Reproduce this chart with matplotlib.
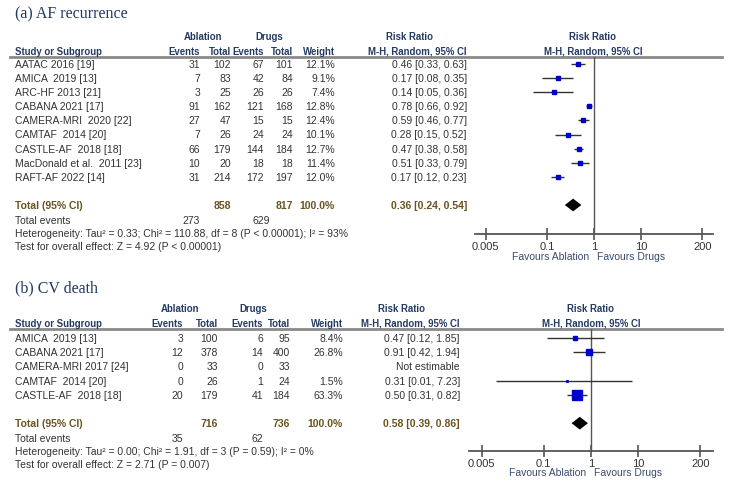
import numpy as np
import matplotlib
matplotlib.use('Agg')
import matplotlib.pyplot as plt
from matplotlib.lines import Line2D

plt.rcParams['font.family'] = ['Liberation Sans', 'DejaVu Sans']

# ---------------- 数据 (a) AF recurrence ----------------
a_studies = ['AATAC 2016 [19]', 'AMICA  2019 [13]', 'ARC-HF 2013 [21]', 'CABANA 2021 [17]',
             'CAMERA-MRI  2020 [22]', 'CAMTAF  2014 [20]', 'CASTLE-AF  2018 [18]',
             'MacDonald et al.  2011 [23]', 'RAFT-AF 2022 [14]']
a_abl_ev = [31, 7, 3, 91, 27, 7, 66, 10, 31]
a_abl_n = [102, 83, 25, 162, 47, 26, 179, 20, 214]
a_drug_ev = [67, 42, 26, 121, 15, 24, 144, 18, 172]
a_drug_n = [101, 84, 26, 168, 15, 24, 184, 18, 197]
a_weight = [12.1, 9.1, 7.4, 12.8, 12.4, 10.1, 12.7, 11.4, 12.0]
a_rr = [0.46, 0.17, 0.14, 0.78, 0.59, 0.28, 0.47, 0.51, 0.17]
a_lo = [0.33, 0.08, 0.05, 0.66, 0.46, 0.15, 0.38, 0.33, 0.12]
a_hi = [0.63, 0.35, 0.36, 0.92, 0.77, 0.52, 0.58, 0.79, 0.23]
a_total = (0.36, 0.24, 0.54)
a_het = 'Heterogeneity: Tau² = 0.33; Chi² = 110.88, df = 8 (P < 0.00001); I² = 93%'
a_test = 'Test for overall effect: Z = 4.92 (P < 0.00001)'

# ---------------- 数据 (b) CV death ----------------
b_studies = ['AMICA  2019 [13]', 'CABANA 2021 [17]', 'CAMERA-MRI 2017 [24]',
             'CAMTAF  2014 [20]', 'CASTLE-AF  2018 [18]']
b_abl_ev = [3, 12, 0, 0, 20]
b_abl_n = [100, 378, 33, 26, 179]
b_drug_ev = [6, 14, 0, 1, 41]
b_drug_n = [95, 400, 33, 24, 184]
b_weight = [8.4, 26.8, None, 1.5, 63.3]
b_rr = [0.47, 0.91, None, 0.31, 0.50]
b_lo = [0.12, 0.42, None, 0.01, 0.31]
b_hi = [1.85, 1.94, None, 7.23, 0.82]
b_total = (0.58, 0.39, 0.86)
b_het = 'Heterogeneity: Tau² = 0.00; Chi² = 1.91, df = 3 (P = 0.59); I² = 0%'
b_test = 'Test for overall effect: Z = 2.71 (P = 0.007)'

ticks = [0.005, 0.1, 1, 10, 200]
tick_labels = ['0.005', '0.1', '1', '10', '200']

W, H = 729, 485
NAVY = '#243b63'
GREY = '#333333'
BROWN = '#6b5320'
BLUE = '#0000cc'
FS = 7.5
FSB = 6.9

fig = plt.figure(figsize=(W / 100, H / 100), dpi=100)
fig.patch.set_facecolor('white')
tx = fig.add_axes([0, 0, 1, 1])
tx.set_xlim(0, W)
tx.set_ylim(H, 0)
tx.axis('off')


def panel(title, y0, cols, studies, ae, an, de, dn, wt, rr, lo, hi, total, het, test,
          rr_right, line_y, row0, step, fx, axis_y, lim, fav_y, fav_mid, hdr):
    t_kw = dict(fontsize=FS, color=GREY, va='center')
    tx.text(15, y0, title, fontsize=11.5, family=['Liberation Serif'], color='#1f3864',
            va='center')
    # 表头
    yh1, yh2 = line_y - 21, line_y - 6
    b_kw = dict(fontsize=FSB, color=NAVY, va='center', fontweight='bold')
    tx.text(hdr[0], yh1, 'Ablation', ha='center', **b_kw)
    tx.text(hdr[1], yh1, 'Drugs', ha='center', **b_kw)
    tx.text(hdr[2], yh1, 'Risk Ratio', ha='center', **b_kw)
    tx.text(hdr[3], yh1, 'Risk Ratio', ha='center', **b_kw)
    tx.text(15, yh2, 'Study or Subgroup', ha='left', **b_kw)
    for x, s in zip(cols[:5], ['Events', 'Total', 'Events', 'Total', 'Weight']):
        tx.text(x, yh2, s, ha='right', **b_kw)
    tx.text(rr_right, yh2, 'M-H, Random, 95% CI', ha='right', **b_kw)
    tx.text(hdr[3], yh2, 'M-H, Random, 95% CI', ha='center', **b_kw)
    tx.add_line(Line2D([10, 722], [line_y, line_y], color='#8a8a8a', lw=2))

    n = len(studies)
    for i in range(n):
        y = row0 + step * i
        tx.text(15, y, studies[i], ha='left', **t_kw)
        for x, v in zip(cols[:4], [ae[i], an[i], de[i], dn[i]]):
            tx.text(x, y, str(v), ha='right', **t_kw)
        if wt[i] is not None:
            tx.text(cols[4], y, f'{wt[i]:.1f}%', ha='right', **t_kw)
            tx.text(rr_right, y, f'{rr[i]:.2f} [{lo[i]:.2f}, {hi[i]:.2f}]', ha='right', **t_kw)
        else:
            tx.text(rr_right, y, 'Not estimable', ha='right', **t_kw)

    # 合计
    yt = row0 + step * (n + 1)
    k_kw = dict(fontsize=FS, color=BROWN, va='center', fontweight='bold')
    tx.text(15, yt, 'Total (95% CI)', ha='left', **k_kw)
    tx.text(cols[1], yt, str(sum(an)), ha='right', **k_kw)
    tx.text(cols[3], yt, str(sum(dn)), ha='right', **k_kw)
    tx.text(cols[4], yt, '100.0%', ha='right', **k_kw)
    tx.text(rr_right, yt, f'{total[0]:.2f} [{total[1]:.2f}, {total[2]:.2f}]', ha='right', **k_kw)
    ye = yt + 15
    tx.text(15, ye, 'Total events', ha='left', **t_kw)
    tx.text(cols[0], ye, str(sum(ae)), ha='right', **t_kw)
    tx.text(cols[5], ye, str(sum(de)), ha='right', **t_kw)
    tx.text(15, ye + 13, het, ha='left', **t_kw)
    tx.text(15, ye + 26, test, ha='left', **t_kw)

    # 森林图
    ax = fig.add_axes([fx[0] / W, 1 - axis_y / H, (fx[1] - fx[0]) / W, (axis_y - line_y) / H])
    ax.set_xscale('log')
    ax.set_xlim(10 ** -lim, 10 ** lim)
    ax.set_ylim((axis_y - row0) / step, (line_y - row0) / step)
    ax.patch.set_alpha(0)
    for s in ['top', 'left', 'right']:
        ax.spines[s].set_visible(False)
    ax.spines['bottom'].set_color('#555555')
    ax.spines['bottom'].set_linewidth(1.3)
    ax.set_yticks([])
    ax.set_xticks(ticks)
    ax.set_xticklabels(tick_labels)
    ax.xaxis.set_minor_locator(plt.NullLocator())
    ax.tick_params(axis='x', direction='inout', length=8, width=1.2, color='#555555',
                   labelsize=8, labelcolor=GREY, pad=1)
    ax.axvline(1, color='#555555', lw=1)
    for i in range(n):
        if rr[i] is None:
            continue
        ax.plot([lo[i], hi[i]], [i, i], color='#333333', lw=1, solid_capstyle='butt')
        ax.plot(rr[i], i, marker='s', color=BLUE, markersize=0.95 * np.sqrt(wt[i]), lw=0)
    d = 0.45
    ax.fill([total[1], total[0], total[2], total[0]], [n + 1, n + 1 - d, n + 1, n + 1 + d],
            color='black', lw=0)
    fav_kw = dict(fontsize=FS, color='#3b4b70', va='center')
    tx.text(fav_mid - 4, fav_y, 'Favours Ablation', ha='right', **fav_kw)
    tx.text(fav_mid + 4, fav_y, 'Favours Drugs', ha='left', **fav_kw)


panel('(a) AF recurrence', 14, [200, 231, 264, 293, 335, 270], a_studies, a_abl_ev, a_abl_n,
      a_drug_ev, a_drug_n, a_weight, a_rr, a_lo, a_hi, a_total, a_het, a_test,
      rr_right=467, line_y=58, row0=65, step=14.1, fx=(475, 713), axis_y=235, lim=2.53,
      fav_y=257, fav_mid=593, hdr=(203, 269, 410, 593))

panel('(b) CV death', 288, [183, 218, 263, 290, 343, 263], b_studies, b_abl_ev, b_abl_n,
      b_drug_ev, b_drug_n, b_weight, b_rr, b_lo, b_hi, b_total, b_het, b_test,
      rr_right=460, line_y=330, row0=339, step=14.2, fx=(469, 713), axis_y=452, lim=2.57,
      fav_y=473, fav_mid=590, hdr=(180, 253, 402, 591))

fig.savefig('out.png', dpi=100)
